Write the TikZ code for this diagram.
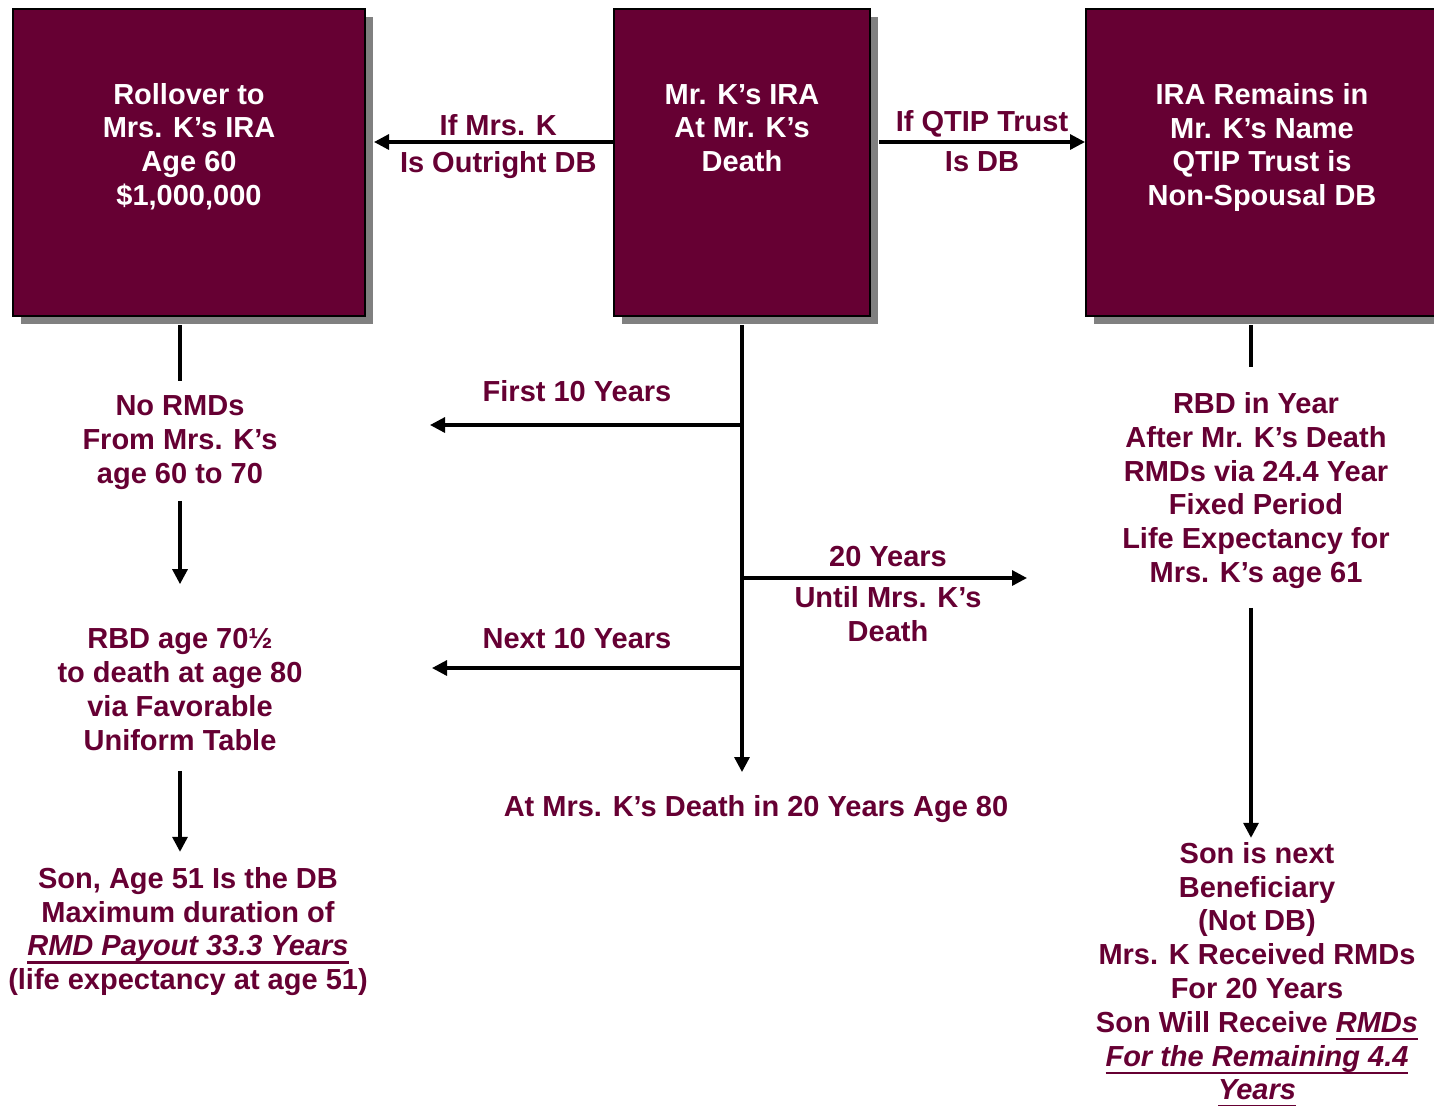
\documentclass[tikz,border=0pt]{standalone}
\usepackage{fontspec}
\setmainfont{Liberation Sans}
\usetikzlibrary{positioning,shadows,arrows.meta}
\definecolor{clbox}{HTML}{660033}
\definecolor{clshadow}{HTML}{808080}
\newcommand{\uit}[1]{\setbox0\hbox{\itshape #1}\rlap{\rule[-4pt]{\wd0}{1.2pt}}\box0}
\begin{document}
\begin{tikzpicture}[x=0.5pt, y=-0.5pt, node distance=1ex]
  \tikzstyle{irabox} = [draw=black, line width=1pt, fill=clbox, minimum width=176pt, minimum height=153.5pt, inner sep=0pt, drop shadow={shadow xshift=4pt, shadow yshift=-4pt, fill=clshadow, opacity=1}]
  \tikzstyle{boxtext} = [text=white, font=\fontsize{14.5}{16.9}\selectfont\bfseries, align=center, inner sep=0pt]
  \tikzstyle{note} = [text=clbox, font=\fontsize{14.5}{16.9}\selectfont\bfseries, align=center, inner sep=0pt]
  \tikzstyle{flow} = [line width=1.6pt, -{Triangle[length=7.5pt,width=7.5pt]}]
  \tikzstyle{stub} = [line width=1.6pt]
  \clip (0,0) rectangle (1434,1105);

  % the three accounts
  \node[irabox] (rollover) at (189,162.5) {};
  \node[irabox, minimum width=128pt] (mrk) at (742,162.5) {};
  \node[irabox] (qtip) at (1262,162.5) {};
  \node[boxtext] (rollovertext) at (189,146.5) {Rollover to\\Mrs. K’s IRA\\Age 60\\\$1,000,000};
  \node[boxtext] (mrktext) at (742,128) {Mr. K’s IRA\\At Mr. K’s\\Death};
  \node[boxtext] (qtiptext) at (1262,147.5) {IRA Remains in\\Mr. K’s Name\\QTIP Trust is\\Non-Spousal DB};

  \draw[flow] ([yshift=10.25pt]mrk.west) -- ([xshift=4pt,yshift=10.25pt]rollover.east)
    node[note, pos=0.48, above=2.5pt] (ifmrsk) {If Mrs. K}
    node[note, pos=0.48, below=4pt] (outright) {Is Outright DB};
  \draw[flow] ([xshift=4pt,yshift=10.25pt]mrk.east) -- ([yshift=10.25pt]qtip.west)
    node[note, midway, above=1.5pt] (ifqtip) {If QTIP Trust}
    node[note, midway, below=4pt] (isdb) {Is DB};

  % left column
  \node[note] (normd) at (180,442.5) {No RMDs\\From Mrs. K’s\\age 60 to 70};
  \node[note] (rbdleft) at (180,689.5) {RBD age 70½\\to death at age 80\\via Favorable\\Uniform Table};
  \node[note] (son) at (188,931.5) {Son, Age 51 Is the DB\\Maximum duration of\\\uit{RMD Payout 33.3 Years}\\(life expectancy at age 51)};
  \draw[stub, shorten <=4pt, shorten >=7pt] (normd.north |- rollover.south) -- (normd.north);
  \draw[flow, shorten <=5.5pt, shorten >=22pt] (normd.south) -- (rbdleft.north);
  \draw[flow, shorten <=10pt, shorten >=7.5pt] (rbdleft.south) -- (son.north -| rbdleft.south);

  % middle column
  \node[note] (atdeath) at (756,809) {At Mrs. K’s Death in 20 Years Age 80};
  \node[note] (first10) at (577,391) {First 10 Years};
  \node[note] (next10) at (577,638) {Next 10 Years};
  \node[note] (twenty) at (888,557) {20 Years};
  \node[note] (until) at (888,614) {Until Mrs. K’s\\Death};
  \coordinate (firstend) at (430,425);
  \coordinate (nextend) at (432,668);
  \coordinate (twentyend) at (1027,578);
  \draw[flow, shorten <=4pt, shorten >=11.5pt] (mrk.south) -- (mrk.south |- atdeath.north);
  \draw[flow] (mrk.south |- firstend) -- (firstend);
  \draw[flow] (mrk.south |- nextend) -- (nextend);
  \draw[flow] (mrk.south |- twentyend) -- (twentyend);

  % right column
  \node[note] (rbdright) at (1256,490.5) {RBD in Year\\After Mr. K’s Death\\RMDs via 24.4 Year\\Fixed Period\\Life Expectancy for\\Mrs. K’s age 61};
  \node[note] (sonnext) at (1257,975) {Son is next\\Beneficiary\\(Not DB)\\Mrs. K Received RMDs\\For 20 Years\\Son Will Receive \uit{RMDs}\\\uit{For the Remaining 4.4}\\\uit{Years}};
  \draw[stub, shorten <=4pt, shorten >=12.5pt] ([xshift=-2.5pt]rbdright.north |- qtip.south) -- ([xshift=-2.5pt]rbdright.north);
  \draw[flow, shorten <=9.5pt, shorten >=2pt] ([xshift=-2.5pt]rbdright.south) -- ([xshift=-2.5pt]rbdright.south |- sonnext.north);
\end{tikzpicture}
\end{document}
